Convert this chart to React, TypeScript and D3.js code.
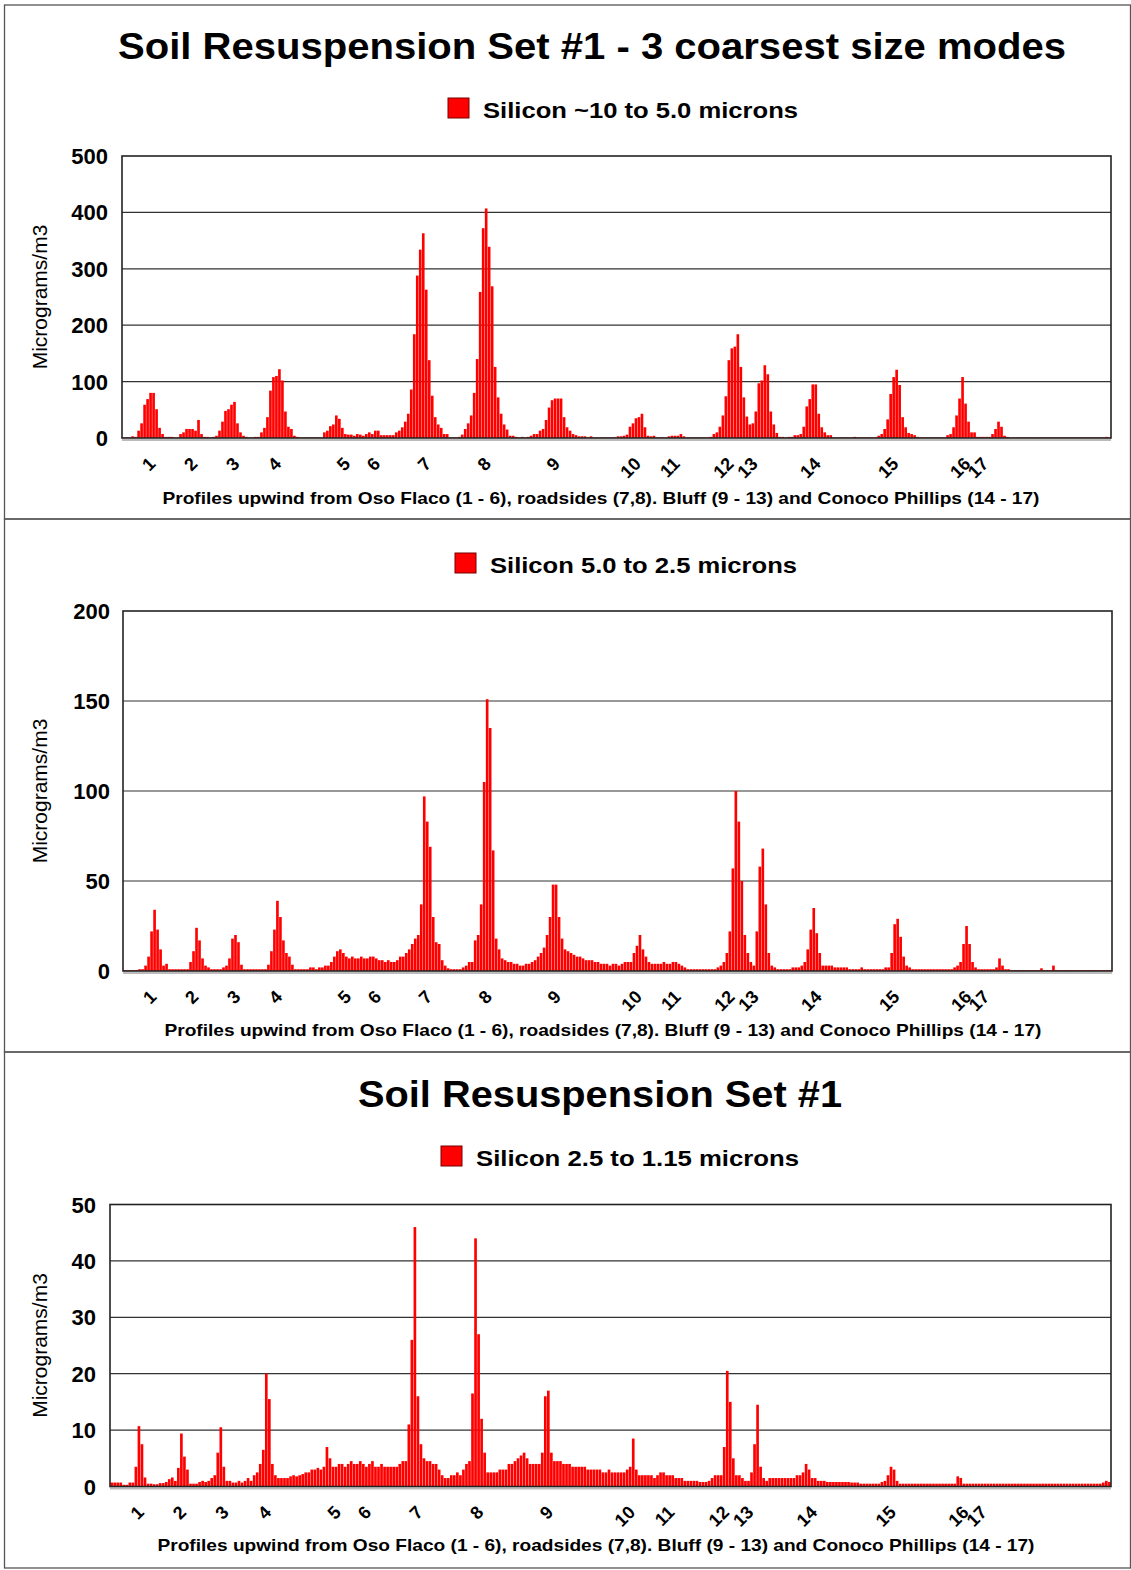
import * as d3 from 'd3'

// profile numbers printed under the axis, and the bar they sit on
const profileLabels = ['1', '2', '3', '4', '5', '6', '7', '8', '9', '10', '11', '12', '13', '14', '15', '16', '17']
const profileIndex = [11, 25, 39, 53, 76, 86, 103, 123, 146, 173, 186, 204, 212, 233, 259, 283, 289]

// Silicon ~10 to 5.0 microns
const siliconCoarse = [
	1, 1, 1, 3, 2, 13, 26, 59, 69, 80,
	80, 51, 18, 7, 2, 2, 2, 1, 1, 7,
	10, 16, 16, 16, 13, 32, 7, 2, 2, 1,
	2, 4, 13, 29, 48, 51, 59, 64, 26, 10,
	4, 2, 1, 1, 2, 2, 10, 18, 37, 84,
	108, 110, 122, 102, 47, 20, 16, 4, 2, 1,
	1, 1, 1, 1, 1, 1, 1, 10, 13, 21,
	24, 40, 34, 18, 7, 6, 6, 4, 7, 6,
	4, 7, 10, 7, 13, 13, 5, 5, 5, 5,
	5, 10, 13, 19, 29, 43, 86, 184, 288, 334,
	363, 263, 138, 75, 37, 24, 18, 7, 7, 1,
	1, 1, 2, 6, 16, 26, 40, 80, 140, 259,
	372, 407, 339, 269, 126, 72, 43, 24, 15, 4,
	4, 2, 1, 2, 1, 2, 4, 7, 7, 13,
	16, 32, 54, 67, 70, 70, 70, 37, 19, 13,
	7, 5, 3, 3, 3, 1, 3, 1, 1, 1,
	1, 1, 1, 1, 1, 3, 3, 4, 6, 20,
	26, 35, 37, 43, 19, 4, 3, 4, 1, 1,
	1, 1, 3, 4, 4, 4, 7, 3, 1, 1,
	1, 1, 1, 1, 1, 1, 2, 7, 10, 20,
	40, 74, 138, 159, 162, 184, 126, 72, 38, 24,
	26, 47, 97, 102, 129, 113, 47, 24, 9, 2,
	2, 1, 2, 2, 5, 5, 7, 20, 56, 69,
	95, 95, 43, 19, 10, 5, 5, 1, 1, 1,
	1, 1, 1, 1, 2, 1, 1, 1, 1, 1,
	1, 1, 4, 7, 16, 33, 78, 108, 121, 94,
	37, 19, 9, 7, 5, 2, 1, 1, 1, 1,
	1, 1, 1, 1, 1, 5, 7, 19, 40, 70,
	108, 61, 29, 10, 10, 2, 2, 2, 2, 2,
	7, 16, 29, 20, 4, 2, 1, 1, 1, 1,
	1, 1, 1, 1, 1, 1, 1, 1, 1, 1,
	1, 1, 1, 1, 1, 1, 1, 1, 1, 1,
	1, 1, 1, 1, 1, 1, 1, 1, 2, 1,
]

// Silicon 5.0 to 2.5 microns
const siliconMid = [
	0.5, 0.5, 0.5, 0.5, 0.5, 1, 1, 3, 8, 22,
	34, 23, 12, 3, 4, 1, 1, 1, 1, 1,
	1, 1, 5, 11, 24, 17, 7, 3, 2, 1,
	1, 1, 1, 2, 3, 7, 18, 20, 16, 3.5,
	1, 1, 1, 1, 1, 1, 1, 1, 3.5, 11,
	23, 39, 30, 17, 10, 8, 3.5, 1, 1, 1,
	1, 1, 2, 2, 1, 2, 2, 3, 3, 5,
	8, 11, 12, 10, 8, 7, 8, 7, 7, 8,
	7, 7, 8, 8, 7, 6, 6, 5, 6, 5,
	5, 6, 8, 8, 10, 12, 15, 18, 20, 37,
	97, 83, 69, 30, 16, 15, 6, 3, 1.5, 1,
	1, 1, 1, 2, 3, 5, 5, 17, 20, 37,
	105, 151, 135, 67, 18, 12, 7, 6, 5, 5,
	4, 4, 3, 3, 4, 4, 5, 6, 8, 10,
	13, 20, 30, 48, 48, 30, 18, 12, 11, 10,
	9, 8, 8, 7, 6, 6, 6, 5, 5, 4,
	4, 4, 3, 4, 4, 3, 4, 5, 5, 5,
	10, 14, 20, 12, 8, 5, 4, 4, 4, 4,
	5, 4, 4, 5, 5, 4, 3, 2, 1, 1,
	1, 1, 1, 1, 1, 1, 1, 1, 2, 3,
	5, 10, 22, 57, 100, 83, 50, 20, 10, 5,
	3, 22, 58, 68, 37, 10, 3, 2, 1, 1,
	1, 1, 1, 2, 2, 2, 3, 5, 12, 23,
	35, 21, 10, 3, 3, 3, 3, 2, 2, 2,
	2, 2, 1, 1, 1, 1, 2, 1, 1, 1,
	1, 1, 1, 1, 2, 2, 10, 26, 29, 19,
	8, 3, 2, 1, 1, 1, 1, 1, 1, 1,
	1, 1, 1, 1, 1, 1, 1, 2, 3, 5,
	15, 25, 15, 5, 2, 1, 1, 1, 1, 1,
	1, 2, 7, 3, 1, 1, 0.5, 0.5, 0.5, 0.5,
	0.5, 0.5, 0.5, 0.5, 0.5, 0.5, 1.5, 0.5, 0.5, 0.5,
	3, 0.5, 0.5, 0.5, 0.5, 0.5, 0.5, 0.5, 0.5, 0.5,
	0.5, 0.5, 0.5, 0.5, 0.5, 0.5, 0.5, 0.5, 0.5, 0.5,
]

// Silicon 2.5 to 1.15 microns
const siliconFine = [
	0.7, 0.7, 0.7, 0.7, 0.3, 0.3, 0.7, 0.7, 3.5, 10.7,
	7.5, 1.6, 0.5, 0.5, 0.4, 0.4, 0.6, 0.6, 0.8, 1.3,
	1.6, 1, 3.3, 9.4, 5.3, 3, 0.5, 0.5, 0.5, 0.8,
	1, 0.8, 1, 1.5, 2, 6, 10.5, 3.5, 1, 1,
	0.7, 0.7, 1, 0.7, 1, 1.5, 1, 2, 2.5, 4,
	6.5, 20, 15.5, 4, 2, 1.5, 1.5, 1.5, 1.5, 1.8,
	2, 1.8, 2, 2.2, 2.5, 2.5, 3, 3, 3.3, 3,
	3.5, 7, 5, 3.5, 3.5, 4, 4, 3.5, 4, 4.5,
	4, 4, 4.5, 4, 3.5, 4, 4.5, 3.5, 3.5, 4,
	3.5, 3.5, 3.5, 3.5, 3.5, 4, 4.5, 4.5, 11, 26,
	46, 16, 7.5, 5, 4.5, 4.5, 4, 4, 3, 2,
	1.5, 1.5, 2, 2, 2.5, 2, 3, 4, 4.5, 16.5,
	44, 27, 12, 6, 2.5, 2.5, 2.5, 2.5, 3, 3,
	3, 4, 4, 4.5, 5, 5.5, 6, 5, 4, 4,
	4, 4, 6, 16, 17, 6, 4.5, 4.5, 4.5, 4,
	4, 4, 3.5, 3.5, 3.5, 3.5, 3.5, 3, 3, 3,
	3, 3, 2.5, 2.5, 3, 2.5, 2.5, 2.5, 2.5, 2.5,
	3, 3.5, 8.5, 3, 2, 2, 2, 2, 2, 1.5,
	2, 2.5, 2.5, 2, 2, 2, 1.5, 1.5, 1.5, 1,
	1, 1, 1, 1, 0.8, 0.8, 0.8, 1, 1.5, 2,
	2, 2, 7, 20.5, 15, 5, 2, 2, 1.5, 1,
	1, 2.5, 7.5, 14.5, 3.5, 1.5, 1, 1.5, 1.5, 1.5,
	1.5, 1.5, 1.5, 1.5, 1.5, 1.5, 2, 2, 2.5, 4,
	3, 1.5, 1.5, 1, 1, 1, 0.8, 0.8, 0.8, 0.8,
	0.8, 0.8, 0.8, 0.8, 0.7, 0.7, 0.7, 0.5, 0.5, 0.5,
	0.5, 0.5, 0.5, 0.5, 0.8, 1, 2, 3.5, 3, 1,
	0.5, 0.5, 0.5, 0.5, 0.5, 0.5, 0.5, 0.5, 0.5, 0.5,
	0.5, 0.5, 0.5, 0.5, 0.5, 0.5, 0.5, 0.5, 0.5, 1.8,
	1.5, 0.5, 0.5, 0.5, 0.5, 0.5, 0.5, 0.5, 0.5, 0.5,
	0.5, 0.5, 0.5, 0.5, 0.5, 0.5, 0.5, 0.5, 0.5, 0.5,
	0.5, 0.5, 0.5, 0.5, 0.5, 0.5, 0.5, 0.5, 0.5, 0.5,
	0.5, 0.5, 0.5, 0.5, 0.5, 0.5, 0.5, 0.5, 0.5, 0.5,
	0.5, 0.5, 0.5, 0.5, 0.5, 0.5, 0.5, 0.7, 1, 0.8,
]

const axisTitle =
	'Profiles upwind from Oso Flaco (1 - 6), roadsides (7,8). Bluff (9 - 13) and Conoco Phillips (14 - 17)'

const FONT = '"Liberation Sans", Arial, Helvetica, sans-serif'

interface PanelProps {
	values: number[]
	yMax: number
	yStep: number
	legend: string
	legendWidth: number
	title?: string
	titleX?: number
	titleY?: number
	titleWidth?: number
	frame: [number, number]
	plot: { left: number; right: number; top: number; bottom: number }
	legendX: number
	legendY: number
	tickRight: number
	axisTitleX: number
	axisTitleY: number
}

const Panel = ({
	values,
	yMax,
	yStep,
	legend,
	legendWidth,
	title,
	titleX,
	titleY,
	titleWidth,
	frame,
	plot,
	legendX,
	legendY,
	tickRight,
	axisTitleX,
	axisTitleY,
}: PanelProps) => {
	const { left, right, top, bottom } = plot
	const x = d3
		.scaleBand<number>()
		.domain(d3.range(values.length))
		.range([left, right])
		.paddingInner(0.12)
		.paddingOuter(0.1)
	const y = d3.scaleLinear().domain([0, yMax]).range([bottom, top])
	const ticks = d3.range(0, yMax + 1, yStep)

	return (
		<g>
			<rect
				x={4.5}
				y={frame[0]}
				width={1126}
				height={frame[1] - frame[0]}
				fill="none"
				stroke="#555"
				strokeWidth={1.3}
			/>
			{title && (
				<text
					x={titleX}
					y={titleY}
					textAnchor="middle"
					fontSize={36}
					fontWeight="bold"
					textLength={titleWidth}
					lengthAdjust="spacingAndGlyphs"
				>
					{title}
				</text>
			)}
			{/* legend */}
			<rect x={legendX} y={legendY - 20} width={21} height={20} fill="#ff0000" stroke="#700" strokeWidth={1} />
			<text
				x={legendX + 35}
				y={legendY}
				fontSize={22}
				fontWeight="bold"
				textLength={legendWidth}
				lengthAdjust="spacingAndGlyphs"
			>
				{legend}
			</text>

			{/* gridlines */}
			{ticks.slice(1, -1).map((t) => (
				<line key={t} x1={left} x2={right} y1={y(t)} y2={y(t)} stroke="#333" strokeWidth={1.2} />
			))}

			{/* bars */}
			{values.map((v, i) => (
				<rect
					key={i}
					x={x(i)}
					y={y(v)}
					width={x.bandwidth()}
					height={bottom - y(v)}
					fill="#ff0000"
				/>
			))}

			<line x1={left} x2={right} y1={bottom + 2} y2={bottom + 2} stroke="#bbb" strokeWidth={2} />
			<rect
				x={left}
				y={top}
				width={right - left}
				height={bottom - top}
				fill="none"
				stroke="#222"
				strokeWidth={1.6}
			/>

			{/* y axis */}
			{ticks.map((t) => (
				<text key={t} x={tickRight} y={y(t) + 8} textAnchor="end" fontSize={22} fontWeight="bold">
					{t}
				</text>
			))}
			<text
				transform={`translate(47, ${(top + bottom) / 2}) rotate(-90)`}
				textAnchor="middle"
				fontSize={21}
			>
				Micrograms/m3
			</text>

			{/* x axis profile numbers */}
			{profileLabels.map((lab, k) => {
				const bx = (x(profileIndex[k]) as number) + x.bandwidth() / 2
				return (
					<text
						key={lab}
						transform={`translate(${bx}, ${bottom + 27}) rotate(-45)`}
						textAnchor="end"
						fontSize={18}
						fontWeight="bold"
					>
						{lab}
					</text>
				)
			})}
			<text
				x={axisTitleX}
				y={axisTitleY}
				textAnchor="middle"
				fontSize={17}
				fontWeight="bold"
				textLength={877}
				lengthAdjust="spacingAndGlyphs"
			>
				{axisTitle}
			</text>
		</g>
	)
}

export default function App() {
	return (
		<svg
			width={1131}
			height={1570}
			style={{ position: 'absolute', left: 0, top: 0, background: '#fff' }}
			fontFamily={FONT}
		>
			<rect width={1131} height={1570} fill="#fff" />
			<Panel
				values={siliconCoarse}
				yMax={500}
				yStep={100}
				title="Soil Resuspension Set #1 - 3 coarsest size modes"
				titleX={592}
				titleY={59}
				titleWidth={948}
				legend="Silicon ~10 to 5.0 microns"
				legendWidth={315}
				legendX={448}
				legendY={118}
				frame={[5, 519]}
				plot={{ left: 122, right: 1111, top: 156, bottom: 438 }}
				tickRight={108}
				axisTitleX={601}
				axisTitleY={504}
			/>
			<Panel
				values={siliconMid}
				yMax={200}
				yStep={50}
				legend="Silicon 5.0 to 2.5 microns"
				legendWidth={307}
				legendX={455}
				legendY={573}
				frame={[519, 1052]}
				plot={{ left: 123, right: 1112, top: 611, bottom: 971 }}
				tickRight={110}
				axisTitleX={603}
				axisTitleY={1036}
			/>
			<Panel
				values={siliconFine}
				yMax={50}
				yStep={10}
				title="Soil Resuspension Set #1"
				titleX={600}
				titleY={1107}
				titleWidth={484}
				legend="Silicon 2.5 to 1.15 microns"
				legendWidth={323}
				legendX={441}
				legendY={1166}
				frame={[1052, 1568]}
				plot={{ left: 110, right: 1111, top: 1204.5, bottom: 1486.5 }}
				tickRight={96}
				axisTitleX={596}
				axisTitleY={1551}
			/>
		</svg>
	)
}
